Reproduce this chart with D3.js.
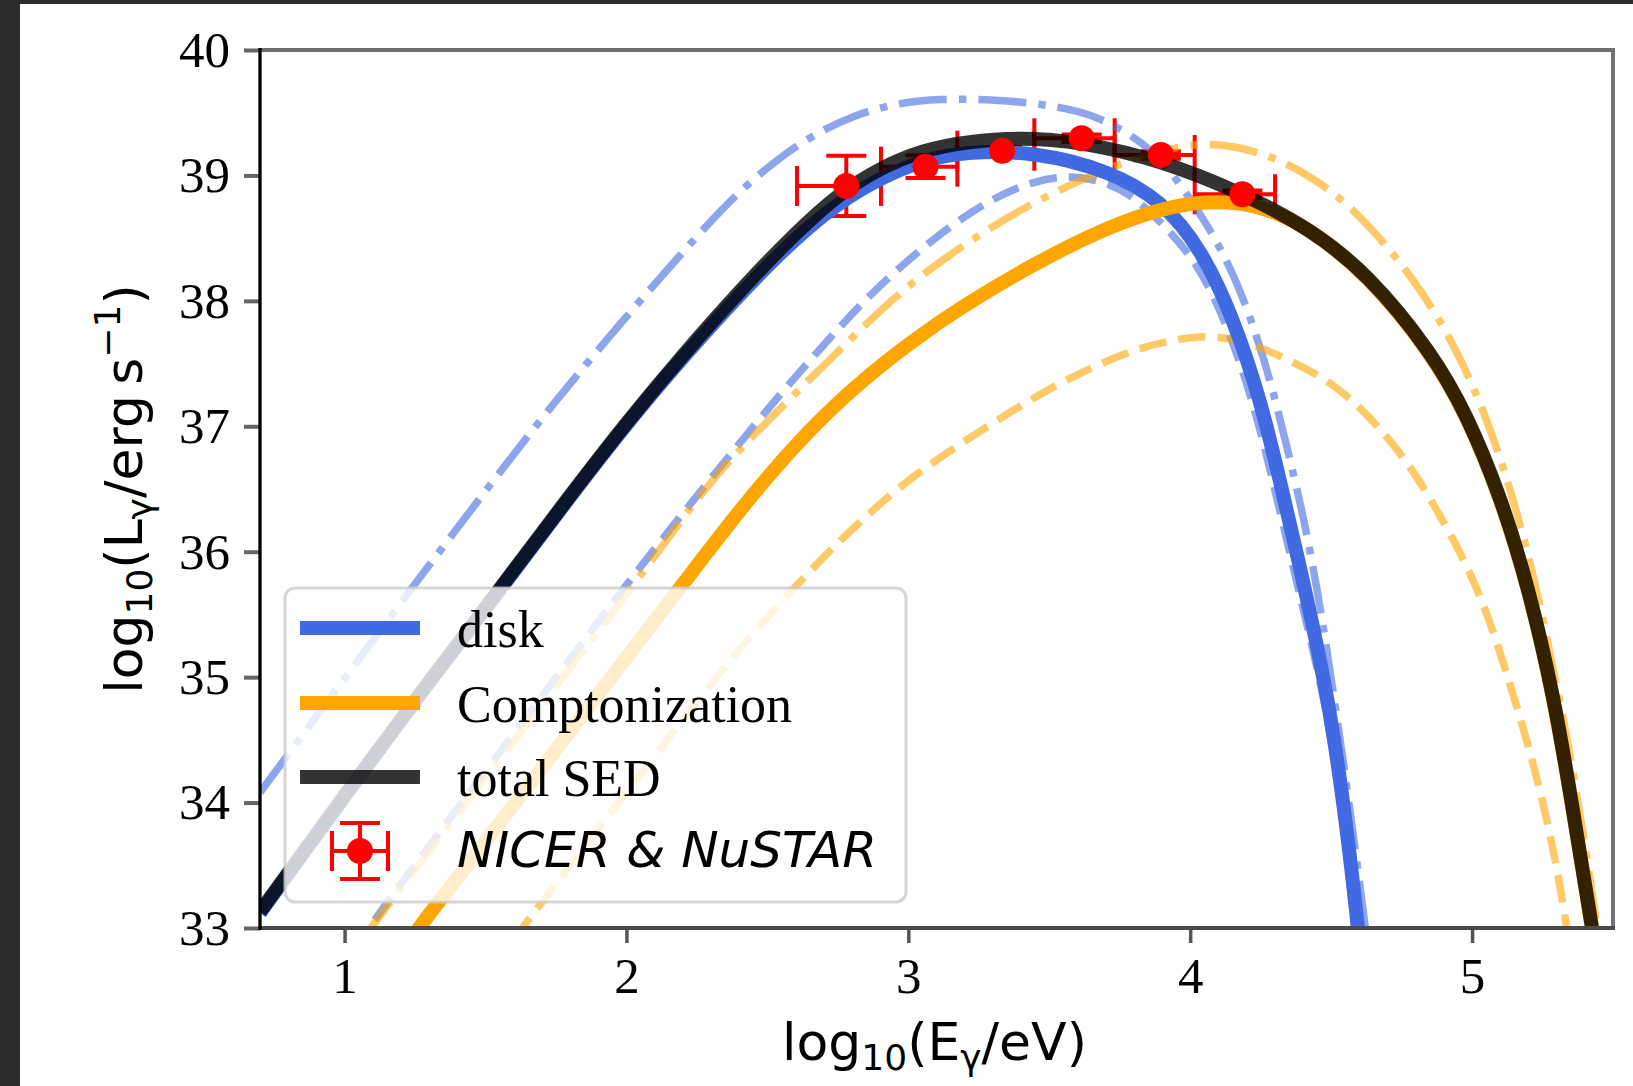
<!DOCTYPE html>
<html>
<head>
<meta charset="utf-8">
<script src="https://cdn.jsdelivr.net/npm/d3@7"></script>
<style>
html, body { margin: 0; padding: 0; background: #fff; }
svg { display: block; }
</style>
</head>
<body>
<div id="chart"></div>
<script>
// values: [log10(E/eV), log10(L/erg s^-1)]
const totalSED = [[0.70,33.13],[1.0,34.06],[1.3,34.97],[1.55,35.70],[1.8,36.45],[2.0,37.03],[2.2,37.57],[2.43,38.15],[2.6,38.54],[2.75,38.85],[2.9,39.06],[3.05,39.20],[3.2,39.27],[3.45,39.31],[3.7,39.23],[3.96,39.07],[4.21,38.83],[4.42,38.58],[4.63,38.22],[4.86,37.58],[4.98,37.10],[5.10,36.45],[5.2,35.72],[5.29,34.85],[5.35,34.05],[5.41,33.22],[5.44,32.8]];
const diskSolid = [[0.70,33.12],[1.0,34.05],[1.3,34.96],[1.55,35.69],[1.8,36.44],[2.0,37.02],[2.2,37.55],[2.43,38.12],[2.6,38.50],[2.75,38.78],[2.9,38.98],[3.05,39.12],[3.2,39.19],[3.45,39.19],[3.71,39.04],[3.90,38.80],[4.04,38.41],[4.15,37.88],[4.25,37.21],[4.32,36.55],[4.414,35.64],[4.49,34.82],[4.543,34.02],[4.585,33.22],[4.60,32.9]];
const diskDashed = [[1.03,32.8],[1.094,33.04],[1.5,34.25],[2.003,35.75],[2.18,36.25],[2.381,36.81],[2.55,37.27],[2.7,37.65],[2.85,38.02],[3.0,38.33],[3.15,38.60],[3.3,38.82],[3.45,38.96],[3.57,39.0],[3.68,38.96],[3.785,38.86],[3.896,38.63],[4.0,38.37],[4.071,38.10],[4.14,37.75],[4.23,37.15],[4.30,36.50],[4.40,35.55],[4.48,34.8],[4.535,34.0],[4.575,33.2],[4.59,32.8]];
const diskDashDot = [[0.70,34.08],[1.0,34.99],[1.235,35.70],[1.495,36.47],[1.731,37.16],[2.027,37.95],[2.322,38.70],[2.44,38.95],[2.554,39.16],[2.668,39.33],[2.807,39.48],[2.947,39.57],[3.1,39.615],[3.35,39.60],[3.50,39.56],[3.656,39.49],[3.80,39.31],[3.90,39.14],[4.07,38.59],[4.177,38.11],[4.272,37.48],[4.343,36.84],[4.40,36.30],[4.45,35.72],[4.50,35.0],[4.55,34.22],[4.60,33.38],[4.63,32.85]];
const comptSolid = [[1.20,32.8],[1.282,33.06],[1.5,33.69],[1.75,34.42],[2.0,35.16],[2.2,35.74],[2.4,36.33],[2.6,36.86],[2.8,37.30],[3.0,37.66],[3.2,37.97],[3.45,38.30],[3.68,38.56],[3.86,38.71],[4.01,38.79],[4.18,38.79],[4.30,38.71],[4.42,38.58],[4.63,38.21],[4.86,37.57],[4.98,37.09],[5.10,36.44],[5.2,35.71],[5.29,34.84],[5.35,34.04],[5.41,33.21],[5.44,32.8]];
const comptDashed = [[1.60,32.9],[1.649,33.06],[2.0,34.08],[2.381,35.19],[2.618,35.77],[2.783,36.15],[3.007,36.60],[3.267,36.98],[3.515,37.33],[3.788,37.61],[3.941,37.69],[4.071,37.73],[4.213,37.67],[4.378,37.50],[4.508,37.34],[4.626,37.10],[4.72,36.86],[4.815,36.57],[4.957,36.01],[5.051,35.54],[5.134,34.95],[5.205,34.42],[5.264,33.89],[5.311,33.36],[5.335,33.01],[5.35,32.8]];
const comptDashDot = [[1.06,32.9],[1.14,33.14],[1.5,34.20],[2.039,35.77],[2.239,36.39],[2.393,36.81],[2.744,37.58],[2.96,38.06],[3.2,38.46],[3.466,38.82],[3.75,39.10],[3.9,39.20],[4.036,39.26],[4.178,39.23],[4.325,39.12],[4.449,38.96],[4.579,38.74],[4.78,38.23],[4.94,37.65],[5.058,37.04],[5.154,36.37],[5.228,35.72],[5.288,35.06],[5.335,34.55],[5.394,33.76],[5.441,33.06],[5.46,32.7]];

// NICER & NuSTAR points
const obsE   = [2.78, 3.061, 3.333, 3.615, 3.896, 4.185];
const obsElo = [2.605, 2.903, 3.174, 3.447, 3.732, 4.016];
const obsEhi = [2.903, 3.174, 3.447, 3.732, 4.016, 4.301];
const obsL   = [38.916, 39.07, 39.197, 39.296, 39.163, 38.85];
const obsLerr = [0.24, 0.09, 0.03, 0.03, 0.03, 0.03];

const xTicks = [1, 2, 3, 4, 5];
const yTicks = [33, 34, 35, 36, 37, 38, 39, 40];
const legendNames = ["disk", "Comptonization", "total SED"];

const W = 1633, H = 1086;
const pLeft = 260, pRight = 1613, pTop = 50, pBottom = 928;

const x = d3.scaleLinear().domain([0.7, 5.5]).range([pLeft, pRight]);
const y = d3.scaleLinear().domain([33, 40]).range([pBottom, pTop]);

const svg = d3.select("#chart").append("svg")
    .attr("width", W).attr("height", H);

svg.append("rect").attr("width", W).attr("height", H).attr("fill", "#fff");
svg.append("rect").attr("width", 20).attr("height", H).attr("fill", "#2b2b2b");
svg.append("rect").attr("width", W).attr("height", 4).attr("fill", "#2b2b2b");

svg.append("clipPath").attr("id", "plotclip")
    .append("rect")
    .attr("x", pLeft).attr("y", pTop)
    .attr("width", pRight - pLeft).attr("height", pBottom - pTop);

const plot = svg.append("g").attr("clip-path", "url(#plotclip)");

const line = d3.line()
    .x(d => x(d[0]))
    .y(d => y(d[1]))
    .curve(d3.curveBasis);

const blue = "#4169e1", orange = "#ffa500", red = "#ff0000";
const thin = 7.5, thick = 14;
const dashed = [3.7 * thin, 1.6 * thin].join(",");
const dashdot = [6.4 * thin, 1.6 * thin, 1 * thin, 1.6 * thin].join(",");

// error bars sit under the curves
const cap = 20;
const eb = plot.append("g").attr("stroke", red).attr("stroke-width", 4).attr("fill", "none");
obsE.forEach((e, i) => {
    const cy = y(obsL[i]);
    eb.append("line").attr("x1", x(obsElo[i])).attr("x2", x(obsEhi[i])).attr("y1", cy).attr("y2", cy);
    eb.append("line").attr("x1", x(obsElo[i])).attr("x2", x(obsElo[i])).attr("y1", cy - cap).attr("y2", cy + cap);
    eb.append("line").attr("x1", x(obsEhi[i])).attr("x2", x(obsEhi[i])).attr("y1", cy - cap).attr("y2", cy + cap);
    const y1 = y(obsL[i] + obsLerr[i]), y2 = y(obsL[i] - obsLerr[i]);
    eb.append("line").attr("x1", x(e)).attr("x2", x(e)).attr("y1", y1).attr("y2", y2);
    eb.append("line").attr("x1", x(e) - cap).attr("x2", x(e) + cap).attr("y1", y1).attr("y2", y1);
    eb.append("line").attr("x1", x(e) - cap).attr("x2", x(e) + cap).attr("y1", y2).attr("y2", y2);
});

const curves = [
    {d: diskDashDot, c: blue, w: thin, dash: dashdot, op: 0.6},
    {d: diskDashed, c: blue, w: thin, dash: dashed, op: 0.6},
    {d: comptDashDot, c: orange, w: thin, dash: dashdot, op: 0.6},
    {d: comptDashed, c: orange, w: thin, dash: dashed, op: 0.6},
    {d: diskSolid, c: blue, w: thick, dash: null, op: 1},
    {d: comptSolid, c: orange, w: thick, dash: null, op: 1},
    {d: totalSED, c: "#000", w: thick, dash: null, op: 0.8}
];

curves.forEach(s => {
    plot.append("path")
        .attr("d", line(s.d))
        .attr("fill", "none")
        .attr("stroke", s.c)
        .attr("stroke-width", s.w)
        .attr("stroke-opacity", s.op)
        .attr("stroke-dasharray", s.dash)
        .attr("stroke-linecap", "butt");
});

plot.selectAll(".pt")
    .data(obsE)
    .enter()
    .append("circle")
    .attr("class", "pt")
    .attr("cx", d => x(d))
    .attr("cy", (d, i) => y(obsL[i]))
    .attr("r", 13)
    .attr("fill", red);

// axes
const yAxis = svg.append("g")
    .attr("transform", `translate(${pLeft},0)`)
    .call(d3.axisLeft(y).tickValues(yTicks).tickSize(16).tickPadding(14).tickFormat(d3.format("d")));
const xAxis = svg.append("g")
    .attr("transform", `translate(0,${pBottom})`)
    .call(d3.axisBottom(x).tickValues(xTicks).tickSize(15).tickPadding(14).tickFormat(d3.format("d")));

[yAxis, xAxis].forEach(a => {
    a.select(".domain").remove();
    a.selectAll("text")
        .style("font-family", "'Liberation Serif', 'Times New Roman', serif")
        .style("font-size", "51px")
        .attr("fill", "#000");
});
yAxis.selectAll("line").attr("stroke", "#666").attr("stroke-width", 4);
xAxis.selectAll("line").attr("stroke", "#555").attr("stroke-width", 3.5);

// spines
svg.append("line").attr("x1", pLeft).attr("x2", pRight).attr("y1", pTop).attr("y2", pTop)
    .attr("stroke", "#6e6e6e").attr("stroke-width", 4);
svg.append("line").attr("x1", pRight).attr("x2", pRight).attr("y1", pTop - 2).attr("y2", pBottom + 2)
    .attr("stroke", "#737373").attr("stroke-width", 4);
svg.append("line").attr("x1", pLeft).attr("x2", pRight + 2).attr("y1", pBottom).attr("y2", pBottom)
    .attr("stroke", "#4a4a4a").attr("stroke-width", 4);
svg.append("line").attr("x1", pLeft).attr("x2", pLeft).attr("y1", pTop - 2).attr("y2", pBottom + 2)
    .attr("stroke", "#000").attr("stroke-width", 3.3);

// axis labels
const sans = "'DejaVu Sans', sans-serif";
const xl = svg.append("text")
    .attr("x", (pLeft + pRight) / 2 - 2).attr("y", 1060)
    .attr("text-anchor", "middle")
    .style("font-family", sans).style("font-size", "52px");
xl.append("tspan").text("log");
xl.append("tspan").attr("dy", 10).style("font-size", "36px").text("10");
xl.append("tspan").attr("dy", -10).text("(E");
xl.append("tspan").attr("dy", 10).style("font-size", "36px").text("γ");
xl.append("tspan").attr("dy", -10).text("/eV)");

const yl = svg.append("text")
    .attr("transform", `translate(142,${(pTop + pBottom) / 2}) rotate(-90)`)
    .attr("text-anchor", "middle")
    .style("font-family", sans).style("font-size", "52px");
yl.append("tspan").text("log");
yl.append("tspan").attr("dy", 10).style("font-size", "36px").text("10");
yl.append("tspan").attr("dy", -10).text("(L");
yl.append("tspan").attr("dy", 10).style("font-size", "36px").text("γ");
yl.append("tspan").attr("dy", -10).text("/erg\u2009s");
yl.append("tspan").attr("dy", -22).style("font-size", "36px").text("\u22121");
yl.append("tspan").attr("dy", 22).text(")");

// legend
const lg = svg.append("g");
lg.append("rect")
    .attr("x", 285).attr("y", 588).attr("width", 621).attr("height", 314)
    .attr("rx", 10)
    .attr("fill", "#fff").attr("fill-opacity", 0.8)
    .attr("stroke", "#cccccc").attr("stroke-opacity", 0.8).attr("stroke-width", 3);

const rowY = [628, 703, 777, 851];
const legendLines = [{c: blue, op: 1}, {c: orange, op: 1}, {c: "#000", op: 0.8}];
legendLines.forEach((s, i) => {
    lg.append("line")
        .attr("x1", 300).attr("x2", 420)
        .attr("y1", rowY[i]).attr("y2", rowY[i])
        .attr("stroke", s.c).attr("stroke-opacity", s.op).attr("stroke-width", thick);
    lg.append("text")
        .attr("x", 457).attr("y", rowY[i] + 19)
        .style("font-family", "'Liberation Serif', 'Times New Roman', serif")
        .style("font-size", "52px")
        .text(legendNames[i]);
});

const hx = 360, hy = rowY[3];
const lh = lg.append("g").attr("stroke", red).attr("stroke-width", 4);
lh.append("line").attr("x1", hx - 28).attr("x2", hx + 28).attr("y1", hy).attr("y2", hy);
lh.append("line").attr("x1", hx).attr("x2", hx).attr("y1", hy - 28).attr("y2", hy + 28);
lh.append("line").attr("x1", hx - 28).attr("x2", hx - 28).attr("y1", hy - cap).attr("y2", hy + cap);
lh.append("line").attr("x1", hx + 28).attr("x2", hx + 28).attr("y1", hy - cap).attr("y2", hy + cap);
lh.append("line").attr("x1", hx - cap).attr("x2", hx + cap).attr("y1", hy - 28).attr("y2", hy - 28);
lh.append("line").attr("x1", hx - cap).attr("x2", hx + cap).attr("y1", hy + 28).attr("y2", hy + 28);
lg.append("circle").attr("cx", hx).attr("cy", hy).attr("r", 13).attr("fill", red);

lg.append("text")
    .attr("x", 457).attr("y", 867)
    .style("font-family", sans).style("font-style", "italic")
    .style("font-size", "50px")
    .text("NICER & NuSTAR");
</script>
</body>
</html>
